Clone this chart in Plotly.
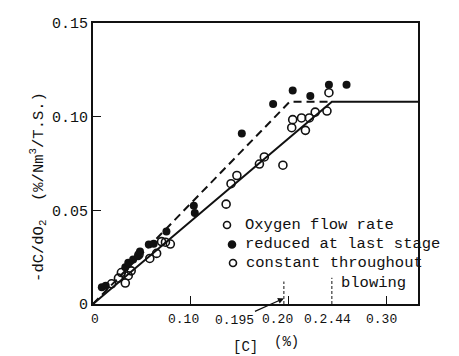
import plotly.graph_objects as go

# ---- data ----
reduced_x = [0.009, 0.013, 0.033, 0.036, 0.041, 0.046, 0.048, 0.057, 0.062, 0.075,
             0.103, 0.104, 0.152, 0.184, 0.204, 0.222, 0.241, 0.259]
reduced_y = [0.0090, 0.0097, 0.0196, 0.0220, 0.0238, 0.0255, 0.0280, 0.0318, 0.0322, 0.0387,
             0.0524, 0.0486, 0.0910, 0.1068, 0.1140, 0.1110, 0.1170, 0.1170]

constant_x = [0.019, 0.026, 0.029, 0.033, 0.036, 0.039, 0.047, 0.058, 0.065, 0.070,
              0.074, 0.079, 0.136, 0.141, 0.147, 0.170, 0.175, 0.194, 0.203, 0.204,
              0.213, 0.217, 0.221, 0.227, 0.239, 0.241]
constant_y = [0.0108, 0.0138, 0.0168, 0.0112, 0.0151, 0.0177, 0.0264, 0.0243, 0.0270, 0.0333,
              0.0330, 0.0320, 0.0533, 0.0642, 0.0686, 0.0747, 0.0785, 0.0741, 0.0941, 0.0984,
              0.0993, 0.0927, 0.0993, 0.1024, 0.1030, 0.1128]

dashed_line_x = [0, 0.201, 0.244]
dashed_line_y = [0, 0.108, 0.108]
solid_line_x = [0, 0.244, 0.332]
solid_line_y = [0, 0.108, 0.108]

critical_c = [0.195, 0.244]
critical_mark_h = [0.012, 0.014]

xtick_vals = [0, 0.10, 0.195, 0.20, 0.244, 0.30]
xtick_text = ["0", "0.10", "0.195", "0.20", "0.2.44", "0.30"]
ytick_vals = [0, 0.05, 0.10, 0.15]
ytick_text = ["0", "0.05", "0.10", "0.15"]

legend_lines = ["Oxygen flow rate", "reduced at last stage", "constant throughout", "blowing"]

FONT = "Courier New, Courier, Nimbus Mono PS, FreeMono, Liberation Mono, monospace"
BLACK = "#111111"

# page offset (browser body margin)
OFF = 8

fig = go.Figure()

fig.add_trace(go.Scatter(x=dashed_line_x, y=dashed_line_y, mode="lines",
                         line=dict(color=BLACK, width=2, dash="8px,5px"), showlegend=False))
fig.add_trace(go.Scatter(x=solid_line_x, y=solid_line_y, mode="lines",
                         line=dict(color=BLACK, width=2), showlegend=False))
fig.add_trace(go.Scatter(x=constant_x, y=constant_y, mode="markers",
                         marker=dict(symbol="circle-open", size=8, color=BLACK,
                                     line=dict(width=1.6, color=BLACK)), showlegend=False))
fig.add_trace(go.Scatter(x=reduced_x, y=reduced_y, mode="markers",
                         marker=dict(symbol="circle", size=8, color=BLACK), showlegend=False))

# critical carbon marks
for cx, h in zip(critical_c, critical_mark_h):
    fig.add_shape(type="line", xref="x", yref="y", x0=cx, x1=cx, y0=0, y1=h,
                  line=dict(color=BLACK, width=1, dash="3px,2px"))

# x tick labels as annotations
xshifts = [2, -7, 0, -11, -4, -5]
for v, t, s in zip(xtick_vals, xtick_text, xshifts):
    if t == "0.195":
        fig.add_annotation(x=v, y=0.003, xref="x", yref="y", text=t, showarrow=True,
                           ax=-49, ay=22, arrowhead=2, arrowsize=1, arrowwidth=1.2,
                           arrowcolor=BLACK, font=dict(family=FONT, size=13, color=BLACK))
    else:
        fig.add_annotation(x=v, y=0, xref="x", yref="y", text=t, showarrow=False,
                           xshift=s, yshift=-15, font=dict(family=FONT, size=13, color=BLACK))

# legend-like text (positions in reference pixels)
W, H = 325.0, 288.0
def px(xp):
    return (xp - 93) / W
def py(yp):
    return (304 - yp) / H

leg_markers = [(227, 223, "open"), (232, 243, "filled"), (233, 262, "open")]
for (mx, my, kind) in leg_markers:
    fig.add_shape(type="circle", xref="paper", yref="paper", xsizemode="pixel", ysizemode="pixel",
                  xanchor=px(mx), yanchor=py(my), x0=-3.5, x1=3.5, y0=-3.5, y1=3.5,
                  line=dict(color=BLACK, width=1.6),
                  fillcolor=BLACK if kind == "filled" else "rgba(0,0,0,0)")

leg_pos = [(243, 223), (243, 242), (244, 262), (339, 282)]
for txt, (lx, ly) in zip(legend_lines, leg_pos):
    fig.add_annotation(x=px(lx), y=py(ly), xref="paper", yref="paper", text=txt,
                       showarrow=False, xanchor="left", yanchor="middle",
                       font=dict(family=FONT, size=15.5, color=BLACK))

# axis titles
fig.add_annotation(x=px(38), y=py(184), xref="paper", yref="paper",
                   xanchor="center", yanchor="middle",
                   text="-dC/dO<sub>2</sub>  (%/Nm<sup>3</sup>/T.S.)", textangle=-90,
                   showarrow=False, font=dict(family=FONT, size=15.5, color=BLACK))
fig.add_annotation(x=px(245), y=py(348), xref="paper", yref="paper",
                   xanchor="center", yanchor="middle",
                   text="[C]", showarrow=False,
                   font=dict(family=FONT, size=14, color=BLACK))
fig.add_annotation(x=px(286.5), y=py(343), xref="paper", yref="paper",
                   xanchor="center", yanchor="middle",
                   text="(%)", showarrow=False,
                   font=dict(family=FONT, size=14, color=BLACK))

fig.update_xaxes(range=[0, 0.332], showgrid=False, zeroline=False, showline=True,
                 linecolor=BLACK, linewidth=2, mirror=True,
                 tickvals=[0.10, 0.20, 0.30], ticks="inside", ticklen=8, tickcolor=BLACK,
                 showticklabels=False)
fig.update_yaxes(range=[0, 0.15], showgrid=False, zeroline=False, showline=True,
                 linecolor=BLACK, linewidth=2, mirror=True,
                 tickvals=ytick_vals, ticktext=ytick_text, ticks="inside", ticklen=8,
                 tickcolor=BLACK, tickfont=dict(family=FONT, size=15, color=BLACK))

fig.update_layout(width=459 - OFF, height=356 - OFF,
                  margin=dict(l=93 - OFF, r=41, t=16 - OFF, b=52),
                  plot_bgcolor="white", paper_bgcolor="white", showlegend=False)

fig.write_html("out.html")
